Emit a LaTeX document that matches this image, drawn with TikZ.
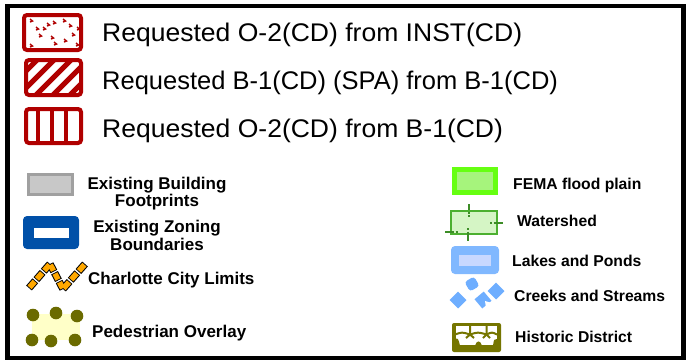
\documentclass[tikz,border=0pt]{standalone}
\usepackage{fontspec}
\setmainfont{Liberation Sans}
\usetikzlibrary{calc}
\definecolor{dred}{HTML}{B00000}
\definecolor{gfill}{HTML}{C8C8C8}
\definecolor{gline}{HTML}{A0A0A0}
\definecolor{zblue}{HTML}{0050A8}
\definecolor{corange}{HTML}{FFA800}
\definecolor{pyellow}{HTML}{FFFFC8}
\definecolor{polive}{HTML}{6B6B00}
\definecolor{fgreen}{HTML}{66FF11}
\definecolor{fgreenin}{HTML}{A6F47C}
\definecolor{wfill}{HTML}{D5F5C5}
\definecolor{wline}{HTML}{4CB030}
\definecolor{lblue}{HTML}{80B8FF}
\definecolor{lbluein}{HTML}{C8D8FF}
\definecolor{cblue}{HTML}{6EAEFF}
\definecolor{holive}{HTML}{757500}
\tikzset{
  bigtxt/.style={anchor=base west, inner sep=0pt, font=\fontsize{25.5}{30}\selectfont},
  widetxt/.style={bigtxt, font=\fontsize{25.5}{30}\selectfont\addfontfeature{FakeStretch=1.04}},
  lbl/.style={anchor=base, inner sep=0pt, font=\fontsize{17}{20}\selectfont\bfseries},
  lblw/.style={anchor=base west, inner sep=0pt, font=\fontsize{17}{20}\selectfont\bfseries},
  rlbl/.style={anchor=base west, inner sep=0pt, font=\fontsize{15.7}{18}\selectfont\bfseries},
  redbox/.style={draw=dred, line width=4pt, rounded corners=3pt},
  speck/.style={dred, line width=1.4pt},
  dashout/.style={black, line width=7.5pt},
  dashin/.style={corange, line width=5.5pt, shorten >=0.9pt, shorten <=0.9pt},
}
\begin{document}
\begin{tikzpicture}[x=1pt,y=-1pt]
\useasboundingbox (0,0) rectangle (690,360);
\fill[white] (0,0) rectangle (690,360);
% frame
\draw[line width=4.5pt] (7.5,6) rectangle (683.5,358);

% box 1: speckled
\draw[redbox, fill=white] (24,15) rectangle (81,50);
\foreach \x/\y in {30/19,36/27,47/23,53/21,63/19,69/24,77/27,39/34,51/36,54/42,72/33,64/39,30/44,76/43,43/27}{
  \draw[speck] (\x,\y) -- ++(2.5,2) -- ++(-2.5,1);
}
\node[widetxt] (t1) at (102,41) {Requested O-2(CD) from INST(CD)};

% box 2: hatched
\begin{scope}
  \clip (26,60) rectangle (81,95);
  \foreach \x in {0,17,34,51,68,85}{
    \draw[dred, line width=5pt] (\x,97) -- ++(37,-37);
  }
\end{scope}
\draw[redbox] (26,60) rectangle (81,95);
\node[bigtxt] (t2) at (102,89) {Requested B-1(CD) (SPA) from B-1(CD)};

% box 3: vertical stripes
\foreach \x in {38,52,66}{
  \draw[dred, line width=4pt] (\x,109) -- (\x,143);
}
\draw[redbox] (26,109) rectangle (81,143);
\node[widetxt] (t3) at (102,137) {Requested O-2(CD) from B-1(CD)};

% Existing building footprints
\draw[draw=gline, fill=gfill, line width=2.5pt] (28.5,174.5) rectangle (72.5,194.5);
\node[lbl] (b1) at (157,189) {Existing Building};
\node[lbl] (b2) at (157,206.5) {Footprints};

% Existing zoning boundaries
\fill[zblue, rounded corners=4pt] (23,216) rectangle (79,249);
\fill[white] (34,228) rectangle (69,238);
\node[lbl] (z1) at (157,232) {Existing Zoning};
\node[lbl] (z2) at (157,250.5) {Boundaries};

% Charlotte City limits
\coordinate (ca) at (29,288);
\coordinate (cb) at (50,264);
\coordinate (cc) at (63,289);
\coordinate (cd) at (85,264);
\foreach \p/\q in {ca/cb, cb/cc, cc/cd}{
  \foreach \f/\g in {0/0.3, 0.35/0.65, 0.7/1}{
    \draw[dashout] ($(\p)!\f!(\q)$) -- ($(\p)!\g!(\q)$);
  }
}
\foreach \p/\q in {ca/cb, cb/cc, cc/cd}{
  \foreach \f/\g in {0/0.3, 0.35/0.65, 0.7/1}{
    \draw[dashin] ($(\p)!\f!(\q)$) -- ($(\p)!\g!(\q)$);
  }
}
\node[lblw] (c1) at (88,284) {Charlotte City Limits};

% Pedestrian overlay
\fill[pyellow] (32,314) rectangle (80,340);
\foreach \x/\y in {33/315,56/313,77/316,32/340,51/341,75/340}{
  \fill[polive] (\x,\y) circle (6.3pt);
}
\node[lblw] (p1) at (92,337) {Pedestrian Overlay};

% FEMA flood plain
\draw[draw=fgreen, fill=fgreenin, line width=5pt] (454.5,169.5) rectangle (495.5,192.5);
\node[rlbl] (f1) at (513,189) {FEMA flood plain};

% Watershed
\draw[draw=wline, fill=wfill, line width=1.2pt] (451,211) rectangle (497,234);
\draw[wline!80!black, line width=1.5pt, dash pattern=on 6pt off 1.5pt on 2pt off 1.5pt] (469,204) -- (469,217);
\draw[wline!80!black, line width=1.5pt, dash pattern=on 2pt off 1.5pt on 9pt off 1pt] (468,228) -- (468,241);
\draw[wline!80!black, line width=1.5pt, dash pattern=on 9pt off 1.5pt on 2pt off 1pt] (445,232) -- (458,232);
\draw[wline!80!black, line width=1.5pt, dash pattern=on 2pt off 1.5pt on 9pt off 1pt] (490,223) -- (503,223);
\node[rlbl] (w1) at (517,226.5) {Watershed};

% Lakes and ponds
\fill[lblue, rounded corners=4pt] (451,246) rectangle (499,274);
\fill[lbluein] (459,255) rectangle (491,266);
\node[rlbl] (l1) at (512,266) {Lakes and Ponds};

% Creeks and streams
\fill[cblue, rotate around={45:(458,300)}] (452,294) rectangle (464,306);
\fill[cblue, rounded corners=3pt, rotate around={30:(472,284)}] (466.5,278.5) rectangle (477.5,289.5);
\fill[cblue, rotate around={40:(483,300)}] (477,294) rectangle (489,306);
\fill[white] (485,301) -- (492,303) -- (492,308) -- (486,308) -- cycle;
\fill[cblue, rotate around={45:(496,291)}] (490,285) rectangle (502,297);
\node[rlbl] (s1) at (514,301) {Creeks and Streams};

% Historic district
\fill[holive, rounded corners=2pt] (452,323) rectangle (501,352);
\fill[white] (455.5,326) rectangle (496.5,345);
\draw[holive, line width=2pt] (455,334.5) .. controls (462,332) .. (470,334.5)
  .. controls (478,332) .. (486.5,334.5) .. controls (492,332) .. (497,334.5);
\draw[holive, line width=2pt] (470,326) -- (470,334.5) -- (466,338);
\draw[holive, line width=2pt] (470,334.5) -- (474,338);
\draw[holive, line width=2pt] (486.5,326) -- (486.5,334.5) -- (483,338);
\draw[holive, line width=2pt] (486.5,334.5) -- (490,338);
\fill[holive] (455,339) .. controls (458,338) .. (460,345.5) -- (455,345.5) -- cycle;
\fill[holive] (475,345.5) .. controls (477,340) and (480,340) .. (482,345.5) -- cycle;
\fill[holive] (497,339) .. controls (494,339) .. (493,345.5) -- (497,345.5) -- cycle;
\node[rlbl] (h1) at (515,342.5) {Historic District};
\end{tikzpicture}
\end{document}
